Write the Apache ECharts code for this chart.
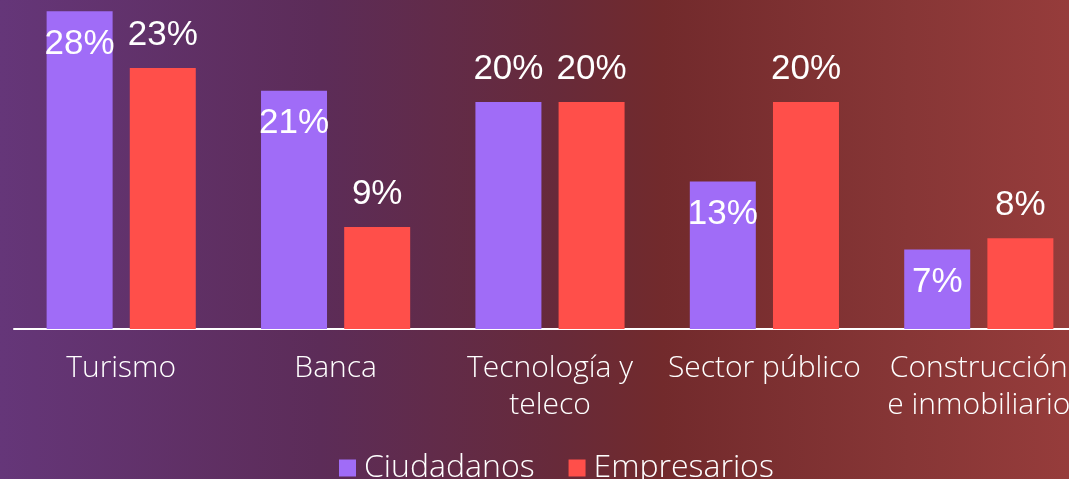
<!DOCTYPE html>
<html>
<head>
<meta charset="utf-8">
<script src="https://cdn.jsdelivr.net/npm/echarts@6/dist/echarts.min.js"></script>
<style>
  html, body { margin: 0; padding: 0; }
  body {
    width: 1069px; height: 479px; overflow: hidden;
    background: linear-gradient(90deg, #653679 0%, #5c2c58 30%, #672a3a 52%, #722a2c 62%, #873636 85%, #963c3b 100%);
  }
  #main { width: 1086px; height: 479px; }
</style>
</head>
<body>
<div id="main"></div>
<script>
const categories = ['Turismo', 'Banca', 'Tecnología y\nteleco', 'Sector público', 'Construcción\ne inmobiliario']
const ciudadanos = [28, 21, 20, 13, 7]
const empresarios = [23, 9, 20, 20, 8]
// which purple labels sit inside the bar top
const ciudadanosInside = [true, true, false, true, true]

const labelFont = {
  color: '#fff',
  fontFamily: 'Liberation Sans',
  fontSize: 35,
  distance: 15,
  formatter: '{c}%',
}

const myChart = echarts.init(document.getElementById('main'), null, { renderer: 'canvas' })
const option = {
  backgroundColor: 'transparent',
  animation: false,
  legend: {
    data: ['Ciudadanos', 'Empresarios'],
    top: 447,
    left: 334,
    icon: 'rect',
    itemWidth: 17,
    itemHeight: 17,
    itemGap: 34,
    textStyle: { color: '#fff', fontSize: 32, fontFamily: 'Open Sans', fontWeight: 300, padding: [0, 0, 0, 3] },
  },
  grid: { left: 14, right: 0, top: 0, bottom: 150 },
  xAxis: {
    type: 'category',
    data: categories,
    axisLine: { lineStyle: { color: '#fff', width: 2 } },
    axisTick: { show: false },
    axisLabel: {
      color: '#fff',
      fontSize: 30,
      fontFamily: 'Open Sans',
      fontWeight: 300,
      lineHeight: 37,
      margin: 21,
      interval: 0,
    },
  },
  yAxis: {
    type: 'value',
    min: 0,
    max: 29,
    show: false,
    splitLine: { show: false },
  },
  series: [
    {
      name: 'Ciudadanos',
      type: 'bar',
      barWidth: 66,
      barGap: '26%',
      itemStyle: { color: '#a06cf7' },
      data: ciudadanos.map((v, i) => ({
        value: v,
        label: { show: true, position: ciudadanosInside[i] ? 'insideTop' : 'top', ...labelFont },
      })),
    },
    {
      name: 'Empresarios',
      type: 'bar',
      barWidth: 66,
      itemStyle: { color: '#ff4f4a' },
      label: { show: true, position: 'top', ...labelFont },
      data: empresarios,
    },
  ],
}
myChart.setOption(option)
</script>
</body>
</html>
